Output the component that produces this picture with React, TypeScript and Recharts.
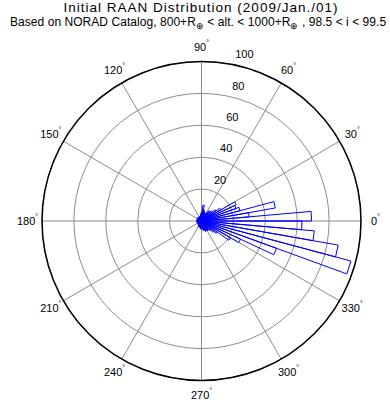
import React from 'react';
import { RadarChart, Radar, PolarGrid, PolarAngleAxis, PolarRadiusAxis } from 'recharts';

// rose histogram of RAAN, 5 degree bins starting at 0
const binWidth = 5;
const binCounts = [
  69, 30, 47, 25, 23, 24, 14, 11, 9, 8, 8, 6, 5, 5, 6, 7, 10, 6,
  5, 4, 3, 3, 3, 2, 3, 3, 2, 3, 3, 2, 3, 3, 2, 3, 3, 3,
  3, 3, 2, 3, 3, 2, 3, 3, 2, 3, 3, 3, 4, 3, 4, 4, 5, 4,
  5, 5, 6, 6, 7, 6, 7, 7, 8, 10, 12, 21, 27, 50, 97, 87, 71, 63,
];
const angleTicks = [0, 30, 60, 90, 120, 150, 180, 210, 240, 270, 300, 330];
const radiusTicks = [20, 40, 60, 80, 100];

const titleLine1 = 'Initial RAAN Distribution (2009/Jan./01)';

// each bin becomes center -> edge -> edge -> center, like matlab rose()
const roseData = binCounts.flatMap((count, i) => {
  const lo = i * binWidth;
  const hi = lo + binWidth;
  return [
    { angle: lo, count: 0 },
    { angle: lo, count },
    { angle: hi, count },
    { angle: hi, count: 0 },
  ];
});

const font = '"Liberation Sans", Arial, sans-serif';

const AngleTick = (props: any) => {
  const { x, y, payload } = props;
  return (
    <text x={x} y={y} textAnchor="middle" dominantBaseline="central" fontSize={11} fontFamily={font} fill="#000">
      {payload.value}
      <tspan fontSize={7} dy={-5}>°</tspan>
    </text>
  );
};

const RadiusTick = (props: any) => {
  const { x, y, payload } = props;
  return (
    <text x={x + 12.5} y={y - 10} textAnchor="middle" dominantBaseline="central" fontSize={11} fontFamily={font} fill="#000">
      {payload.value}
    </text>
  );
};

export default function App() {
  return (
    <div style={{ position: 'absolute', left: 0, top: 0, width: 390, height: 409, overflow: 'hidden', background: '#fff' }}>
      <div style={{ position: 'absolute', top: 0, left: 0, width: 402, textAlign: 'center', fontFamily: font, fontSize: 13.5, letterSpacing: 1, lineHeight: '15px', whiteSpace: 'nowrap' }}>
        {titleLine1}
      </div>
      <div style={{ position: 'absolute', top: 15, left: 10, fontFamily: font, fontSize: 12, letterSpacing: 0.05, lineHeight: '14px', whiteSpace: 'nowrap' }}>
        Based on NORAD Catalog, 800+R<sub style={{ fontSize: 9 }}>⊕</sub> &lt; alt. &lt; 1000+R<sub style={{ fontSize: 9 }}>⊕</sub> , 98.5 &lt; i &lt; 99.5
      </div>
      <RadarChart
        width={390}
        height={409}
        data={roseData}
        cx={201.5}
        cy={221}
        outerRadius={159.5}
        startAngle={0}
        endAngle={360}
        margin={{ top: 0, right: 0, bottom: 0, left: 0 }}
      >
        <PolarGrid gridType="circle" stroke="#8c8c8c" strokeWidth={1} />
        <PolarAngleAxis
          dataKey="angle"
          type="number"
          domain={[0, 360]}
          ticks={angleTicks}
          tickLine={false}
          tickSize={14.5}
          axisLineType="circle"
          axisLine={{ stroke: '#000', strokeWidth: 1.5 }}
          tick={AngleTick}
        />
        <PolarRadiusAxis
          type="number"
          domain={[0, 100]}
          ticks={radiusTicks}
          angle={79}
          axisLine={false}
          tickLine={false}
          tick={RadiusTick}
        />
        <Radar
          dataKey="count"
          stroke="#0000ff"
          strokeWidth={1}
          fill="none"
          fillOpacity={0}
          dot={false}
          isAnimationActive={false}
        />
      </RadarChart>
    </div>
  );
}
